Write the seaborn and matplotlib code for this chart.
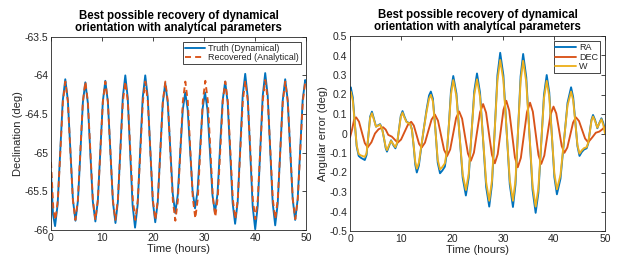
import matplotlib
matplotlib.use("Agg")
import matplotlib.pyplot as plt
import seaborn as sns
import pandas as pd

# ---------------- data ----------------
# Left panel: declination (deg) vs time (hours)
time_truth = [0, 0.4, 0.8, 1.3, 1.8, 2.3, 2.8, 3.3, 3.8, 4.3, 4.8, 5.285, 5.77, 6.25, 6.73,
              7.215, 7.7, 8.2, 8.7, 9.185, 9.67, 10.16, 10.65, 11.15, 11.65, 12.145, 12.64,
              13.12, 13.6, 14.085, 14.57, 15.045, 15.52, 16.0, 16.48, 16.98, 17.48, 17.98,
              18.48, 18.97, 19.46, 19.95, 20.44, 20.93, 21.42, 21.91, 22.4, 22.89, 23.38,
              23.87, 24.36, 24.85, 25.34, 25.83, 26.32, 26.8, 27.28, 27.76, 28.24, 28.73,
              29.22, 29.71, 30.2, 30.69, 31.18, 31.665, 32.15, 32.65, 33.15, 33.65, 34.15,
              34.64, 35.13, 35.615, 36.1, 36.6, 37.1, 37.59, 38.08, 38.57, 39.06, 39.55,
              40.04, 40.53, 41.02, 41.51, 42.0, 42.49, 42.98, 43.47, 43.96, 44.45, 44.94,
              45.43, 45.92, 46.41, 46.9, 47.39, 47.88, 48.37, 48.86, 49.35, 49.84, 50.0]
dec_truth = [-65.25, -65.8, -65.95, -65.67, -65.0, -64.33, -64.05, -64.32, -64.97, -65.61,
             -65.88, -65.62, -64.99, -64.35, -64.09, -64.35, -64.99, -65.63, -65.89, -65.62,
             -64.98, -64.34, -64.07, -64.34, -64.99, -65.64, -65.91, -65.63, -64.96, -64.28,
             -64.00, -64.29, -64.99, -65.68, -65.97, -65.68, -64.99, -64.29, -64.00, -64.28,
             -64.95, -65.62, -65.90, -65.64, -65.00, -64.36, -64.10, -64.35, -64.94, -65.53,
             -65.78, -65.55, -65.00, -64.45, -64.22, -64.44, -64.97, -65.50, -65.72, -65.50,
             -64.97, -64.44, -64.22, -64.45, -65.00, -65.55, -65.78, -65.53, -64.93, -64.33,
             -64.08, -64.35, -65.00, -65.65, -65.92, -65.64, -64.95, -64.26, -63.98, -64.28,
             -64.99, -65.70, -65.99, -65.69, -64.98, -64.27, -63.97, -64.26, -64.96, -65.65,
             -65.94, -65.66, -65.00, -64.33, -64.05, -64.32, -64.96, -65.60, -65.87, -65.60,
             -64.96, -64.32, -64.06, -64.09]

time_recovered = [0, 0.45, 0.86, 1.35, 1.84, 2.33, 2.82, 3.31, 3.8, 4.29, 4.78, 5.27, 5.76,
                  6.25, 6.74, 7.23, 7.72, 8.21, 8.7, 9.19, 9.68, 10.17, 10.66, 11.15, 11.64,
                  12.13, 12.62, 13.11, 13.6, 14.09, 14.58, 15.07, 15.56, 16.05, 16.54, 17.03,
                  17.52, 18.01, 18.5, 18.99, 19.48, 19.97, 20.46, 20.95, 21.44, 21.93, 22.42,
                  22.91, 23.4, 23.89, 24.38, 24.87, 25.36, 25.85, 26.34, 26.83, 27.32, 27.81,
                  28.3, 28.79, 29.28, 29.77, 30.26, 30.75, 31.24, 31.73, 32.22, 32.71, 33.2,
                  33.69, 34.18, 34.67, 35.16, 35.65, 36.14, 36.63, 37.12, 37.61, 38.1, 38.59,
                  39.08, 39.57, 40.06, 40.55, 41.04, 41.53, 42.02, 42.51, 43.0, 43.49, 43.98,
                  44.47, 44.96, 45.45, 45.94, 46.43, 46.92, 47.41, 47.9, 48.39, 48.88, 49.37,
                  49.86, 50.0]
dec_recovered = [-65.12, -65.72, -65.87, -65.61, -64.98, -64.34, -64.08, -64.34, -64.98,
                 -65.61, -65.87, -65.61, -64.98, -64.34, -64.08, -64.34, -64.98, -65.61,
                 -65.87, -65.61, -64.98, -64.34, -64.08, -64.34, -64.98, -65.61, -65.87,
                 -65.61, -64.98, -64.34, -64.08, -64.34, -64.98, -65.61, -65.87, -65.61,
                 -64.98, -64.34, -64.08, -64.34, -64.98, -65.61, -65.87, -65.61, -64.98,
                 -64.34, -64.08, -64.34, -64.98, -65.62, -65.88, -65.62, -64.98, -64.34,
                 -64.08, -64.34, -64.97, -65.59, -65.85, -65.59, -64.96, -64.33, -64.07,
                 -64.33, -64.95, -65.57, -65.83, -65.57, -64.955, -64.33, -64.08, -64.34,
                 -64.97, -65.60, -65.86, -65.60, -64.965, -64.33, -64.07, -64.33, -64.965,
                 -65.60, -65.86, -65.60, -64.96, -64.32, -64.06, -64.32, -64.96, -65.60,
                 -65.86, -65.60, -64.97, -64.34, -64.08, -64.34, -64.97, -65.60, -65.86,
                 -65.60, -64.97, -64.34, -64.08, -64.09]

# Right panel: angular error (deg) vs time (hours)
time_err = [0, 0.15, 0.55, 0.93, 1.3, 1.7, 2.1, 2.5, 2.9, 3.25, 3.6, 3.95, 4.3, 4.7, 5.1,
            5.5, 5.9, 6.3, 6.7, 7.0, 7.25, 7.65, 8.05, 8.5, 8.9, 9.25, 9.6, 9.95, 10.3, 10.7,
            11.1, 11.5, 11.8, 12.15, 12.5, 12.8, 13.1, 13.5, 14.0, 14.5, 15.0, 15.5, 15.85,
            16.25, 16.75, 17.2, 17.65, 18.1, 18.6, 19.0, 19.4, 19.8, 20.25, 20.87, 21.49,
            22.1, 22.72, 23.27, 23.81, 24.36, 24.9, 25.5, 26.1, 26.7, 27.3, 27.84, 28.38,
            28.91, 29.45, 30.08, 30.7, 31.33, 31.95, 32.45, 32.95, 33.45, 33.95, 34.56,
            35.18, 35.79, 36.4, 36.94, 37.49, 38.03, 38.57, 39.07, 39.57, 40.07, 40.57,
            41.27, 41.96, 42.65, 43.35, 43.76, 44.18, 44.59, 45.0, 45.45, 45.9, 46.4, 46.71,
            47.03, 47.34, 47.65, 48.05, 48.5, 48.9, 49.3, 49.65, 50.0]
ra_err = [0.232, 0.237, 0.185, 0.06, -0.065, -0.115, -0.124, -0.13, -0.136, -0.11, -0.012,
          0.087, 0.112, 0.075, 0.035, 0.042, 0.048, 0.025, -0.03, -0.075, -0.093, -0.065,
          -0.035, -0.06, -0.076, -0.05, 0.02, 0.09, 0.115, 0.085, 0.06, 0.055, 0.05, 0.02,
          -0.07, -0.16, -0.2, -0.165, -0.065, 0.03, 0.12, 0.195, 0.215, 0.18, 0.02, -0.15,
          -0.204, -0.19, -0.17, -0.1, 0.05, 0.22, 0.295, 0.205, -0.012, -0.228, -0.318,
          -0.227, -0.005, 0.217, 0.308, 0.208, -0.034, -0.275, -0.375, -0.26, 0.02, 0.299,
          0.414, 0.298, 0.019, -0.262, -0.377, -0.262, 0.016, 0.293, 0.408, 0.289, 0.0,
          -0.288, -0.407, -0.304, -0.054, 0.197, 0.30, 0.211, -0.006, -0.223, -0.312,
          -0.232, -0.038, 0.157, 0.237, 0.186, 0.061, -0.064, -0.115, -0.095, -0.082,
          -0.076, -0.051, 0.01, 0.07, 0.095, 0.07, 0.027, 0.055, 0.078, 0.055, 0.018]
w_err = [0.21, 0.215, 0.168, 0.055, -0.058, -0.105, -0.112, -0.116, -0.12, -0.1, -0.012,
         0.08, 0.104, 0.07, 0.035, 0.04, 0.045, 0.022, -0.028, -0.07, -0.085, -0.06, -0.038,
         -0.056, -0.07, -0.046, 0.018, 0.084, 0.107, 0.08, 0.058, 0.053, 0.048, 0.018,
         -0.065, -0.145, -0.18, -0.15, -0.06, 0.028, 0.11, 0.178, 0.198, 0.165, 0.018,
         -0.135, -0.184, -0.172, -0.153, -0.09, 0.045, 0.2, 0.274, 0.19, -0.012, -0.21,
         -0.29, -0.207, -0.005, 0.198, 0.278, 0.188, -0.03, -0.25, -0.345, -0.24, 0.018,
         0.272, 0.377, 0.272, 0.017, -0.24, -0.345, -0.24, 0.015, 0.268, 0.373, 0.264, 0.0,
         -0.264, -0.375, -0.28, -0.05, 0.18, 0.27, 0.19, -0.005, -0.205, -0.286, -0.213,
         -0.035, 0.143, 0.215, 0.17, 0.056, -0.058, -0.103, -0.086, -0.075, -0.07, -0.047,
         0.008, 0.064, 0.087, 0.064, 0.03, 0.052, 0.073, 0.045, 0.0]
time_dec_err = [0, 0.4, 0.8, 1.2, 1.76, 2.33, 2.9, 3.46, 4.2, 4.9, 5.6, 6.5, 7.0, 7.5, 8.2,
                8.9, 9.35, 10.01, 10.68, 11.34, 12.0, 12.51, 13.03, 13.54, 14.05, 14.7,
                15.35, 16.0, 16.65, 17.25, 17.85, 18.45, 19.05, 19.64, 20.23, 20.81, 21.4,
                21.98, 22.55, 23.13, 23.7, 24.3, 24.9, 25.5, 26.1, 26.68, 27.25, 27.83, 28.4,
                28.96, 29.53, 30.09, 30.65, 31.21, 31.78, 32.34, 32.9, 33.5, 34.1, 34.7,
                35.3, 35.85, 36.4, 36.95, 37.5, 38.1, 38.7, 39.3, 39.9, 40.44, 40.98, 41.51,
                42.05, 42.61, 43.18, 43.74, 44.3, 44.9, 45.5, 46.1, 46.7, 47.5, 48.2, 48.9,
                49.5, 50.0]
dec_err = [-0.02, 0.02, 0.07, 0.083, 0.061, 0.006, -0.049, -0.071, -0.045, 0.0, 0.022, 0.032,
           0.02, -0.007, -0.016, -0.035, -0.047, -0.031, 0.007, 0.044, 0.06, 0.041, -0.006,
           -0.053, -0.072, -0.047, 0.013, 0.072, 0.097, 0.066, -0.009, -0.084, -0.115,
           -0.082, -0.001, 0.08, 0.113, 0.076, -0.014, -0.103, -0.14, -0.098, 0.006, 0.109,
           0.151, 0.107, -0.001, -0.109, -0.153, -0.106, 0.008, 0.121, 0.168, 0.118, -0.003,
           -0.123, -0.173, -0.125, -0.008, 0.11, 0.158, 0.112, 0.001, -0.11, -0.156, -0.113,
           -0.009, 0.095, 0.138, 0.103, 0.02, -0.064, -0.099, -0.072, -0.008, 0.056, 0.083,
           0.064, 0.019, -0.026, -0.045, -0.02, 0.004, 0.01, 0.022, 0.035]

x_ticks = [0, 10, 20, 30, 40, 50]
x_tick_labels = ["0", "10", "20", "30", "40", "50"]
left_y_ticks = [-63.5, -64, -64.5, -65, -65.5, -66]
left_y_tick_labels = ["-63.5", "-64", "-64.5", "-65", "-65.5", "-66"]
right_y_ticks = [0.5, 0.4, 0.3, 0.2, 0.1, 0, -0.1, -0.2, -0.3, -0.4, -0.5]
right_y_tick_labels = ["0.5", "0.4", "0.3", "0.2", "0.1", "0", "-0.1", "-0.2", "-0.3",
                       "-0.4", "-0.5"]

title_text = "Best possible recovery of dynamical\norientation with analytical parameters"

# ---------------- styling ----------------
sns.set_theme(style="white")
plt.rcParams["font.family"] = ["Liberation Sans", "DejaVu Sans"]
plt.rcParams["axes.unicode_minus"] = False

BLUE = "#0072BD"
ORANGE = "#D95319"
YELLOW = "#EDB120"
AXC = "#262626"

fig = plt.figure(figsize=(6.23, 2.68), dpi=100)
fig.patch.set_facecolor("white")
W, H = 623.0, 268.0
ax1 = fig.add_axes([51 / W, 1 - 230 / H, 255 / W, (230 - 36.7) / H])
ax2 = fig.add_axes([350 / W, 1 - 231 / H, 255 / W, (231 - 36.0) / H])

df_truth = pd.DataFrame({"t": time_truth, "v": dec_truth})
df_rec = pd.DataFrame({"t": time_recovered, "v": dec_recovered})
df_err = pd.DataFrame({"t": time_err, "ra": ra_err, "w": w_err})
df_dec = pd.DataFrame({"t": time_dec_err, "dec": dec_err})

lw = 1.35
sns.lineplot(data=df_truth, x="t", y="v", ax=ax1, color=BLUE, lw=lw,
             label="Truth (Dynamical)", solid_joinstyle="round", estimator=None)
sns.lineplot(data=df_rec, x="t", y="v", ax=ax1, color=ORANGE, lw=lw,
             label="Recovered (Analytical)", estimator=None)
ax1.lines[1].set_dashes([3.2, 2.2])

sns.lineplot(data=df_err, x="t", y="ra", ax=ax2, color=BLUE, lw=lw, label="RA",
             solid_joinstyle="round", estimator=None)
sns.lineplot(data=df_dec, x="t", y="dec", ax=ax2, color=ORANGE, lw=lw, label="DEC",
             solid_joinstyle="round", estimator=None)
sns.lineplot(data=df_err, x="t", y="w", ax=ax2, color=YELLOW, lw=lw, label="W",
             solid_joinstyle="round", estimator=None)

for ax, yt, ytl, ylab, ylim in [
    (ax1, left_y_ticks, left_y_tick_labels, "Declination (deg)", (-66, -63.5)),
    (ax2, right_y_ticks, right_y_tick_labels, "Angular error (deg)", (-0.5, 0.5)),
]:
    ax.set_xlim(0, 50)
    ax.set_ylim(*ylim)
    ax.set_xticks(x_ticks)
    ax.set_xticklabels(x_tick_labels)
    ax.set_yticks(yt)
    ax.set_yticklabels(ytl)
    ax.tick_params(direction="in", length=3, width=0.6, top=True, right=True,
                   labelsize=7.5, colors=AXC, pad=2)
    for s in ax.spines.values():
        s.set_color(AXC)
        s.set_linewidth(0.6)
    ax.set_xlabel("Time (hours)", fontsize=8, color=AXC, labelpad=1)
    ax.set_ylabel(ylab, fontsize=8, color=AXC, labelpad=1)
    ax.set_title(title_text, fontsize=8.3, fontweight="bold", color="black", pad=4,
                 linespacing=1.05)
    leg = ax.legend(loc="upper right", fontsize=6.5, frameon=True, fancybox=False,
                    edgecolor=AXC, framealpha=1, borderpad=0.2, handlelength=2.3,
                    handletextpad=0.3, labelspacing=0.05, borderaxespad=0.6)
    leg.get_frame().set_linewidth(0.6)
    for txt in leg.get_texts():
        txt.set_color(AXC)

fig.savefig("out.png", dpi=100, facecolor="white")
